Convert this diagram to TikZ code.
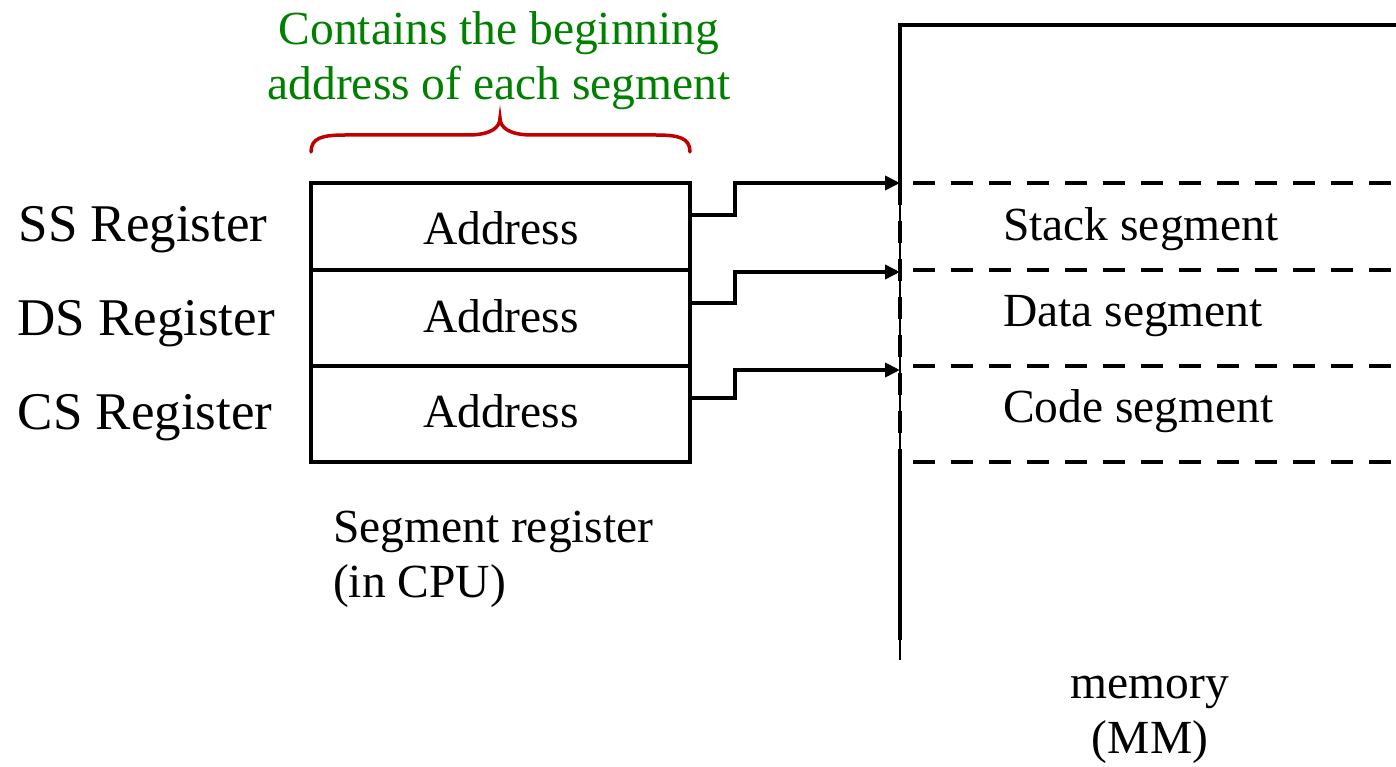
\documentclass[tikz,border=0pt]{standalone}
\usepackage{fontspec}
\setmainfont{Liberation Serif}
\usetikzlibrary{arrows.meta,calc}
\definecolor{notegreen}{HTML}{008000}
\definecolor{bracered}{HTML}{C00000}
\begin{document}
\begin{tikzpicture}[x=1pt,y=-1pt,
  every node/.style={inner sep=0pt,outer sep=0pt},
  txt/.style={font=\fontsize{47.5}{55}\selectfont},
  reglabel/.style={font=\fontsize{53}{60}\selectfont},
  regrow/.style={draw,line width=4.5pt,minimum width=379pt},
  segline/.style={line width=4.5pt,dash pattern=on 22pt off 16pt},
  wire/.style={line width=4.5pt,-{Triangle[length=15pt,width=14pt]}},
  memedge/.style={line width=4.5pt}]
\useasboundingbox (0,0) rectangle (1396,767);

% note and brace above the segment registers
\node[txt,text=notegreen,align=center] (note) at (499,61) {Contains the beginning\\address of each segment};
\draw[bracered,line width=3.5pt,line cap=round]
  (311,152) .. controls (311,138) and (322,135) .. (345,135) -- (468,135)
  .. controls (490,135) and (500,128) .. (500,118)
  .. controls (500,128) and (510,135) .. (532,135) -- (656,135)
  .. controls (679,135) and (690,138) .. (690,152);

% segment registers
\node[regrow,minimum height=87pt] (ss) at (500.5,226.5) {};
\node[regrow,minimum height=96pt] (ds) at (500.5,318) {};
\node[regrow,minimum height=96pt] (cs) at (500.5,414) {};
\node[txt] (ssv) at (501,228) {Address};
\node[txt] (dsv) at (501,316) {Address};
\node[txt] (csv) at (501,411) {Address};

\node[reglabel] (ssl) at (143,230) {SS Register};
\node[reglabel] (dsl) at (146,324) {DS Register};
\node[reglabel] (csl) at (145,418) {CS Register};

\node[txt,align=left,anchor=north west] (cpu) at (333,511) {Segment register\\(in CPU)};

% memory with its three segments
\node (mem) at (1148,343) [minimum width=496pt,minimum height=636pt] {};
\node[anchor=north west,minimum width=496pt,minimum height=87pt] (stack) at (900,183) {};
\node[anchor=north west,minimum width=496pt,minimum height=96pt] (data) at (900,270) {};
\node[anchor=north west,minimum width=496pt,minimum height=96pt] (code) at (900,366) {};

\draw[line width=1.2pt] (mem.north west) -- (900,660);
\draw[memedge] (1396,25) -- (mem.north west) -- (stack.north west);
\draw[memedge] (code.south west) -- (900,640);
\draw[segline] (stack.north west) -- (code.south west);
\foreach \s in {stack,data,code}
  \draw[segline] ([xshift=13pt]\s.north west) -- (\s.north east);
\draw[segline] ([xshift=13pt]code.south west) -- (code.south east);

\node[txt,anchor=west] (stackt) at (1003,229) {Stack segment};
\node[txt,anchor=west] (datat) at (1003,316) {Data segment};
\node[txt,anchor=west] (codet) at (1003,411) {Code segment};

\node[txt,align=center] (memt) at (1150,720) {memory\\(MM)};

% register -> segment start pointers
\draw[wire] ([yshift=11.5pt]ss.east) -- ++(45,0) |- (stack.north west);
\draw[wire] ([yshift=15pt]ds.east) -- ++(45,0) |- ([yshift=-2pt]data.north west);
\draw[wire] ([yshift=16pt]cs.east) -- ++(45,0) |- ([yshift=-4pt]code.north west);
\end{tikzpicture}
\end{document}
